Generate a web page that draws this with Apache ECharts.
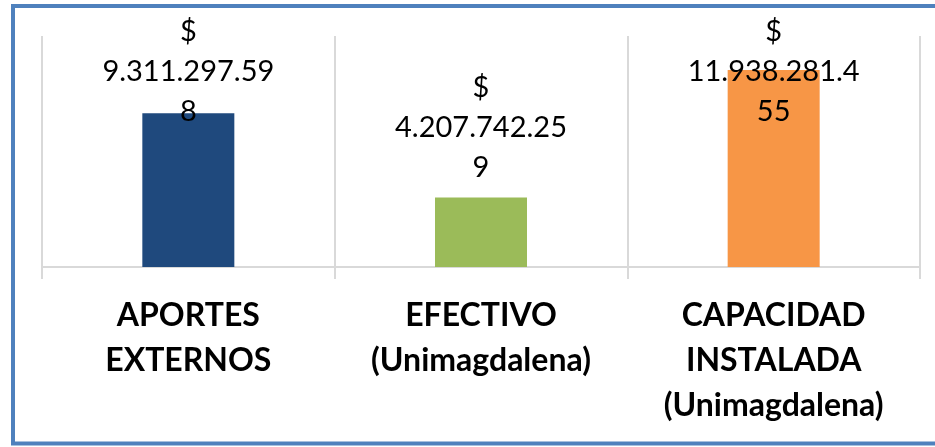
<!DOCTYPE html>
<html>
<head>
<meta charset="utf-8">
<script src="https://cdn.jsdelivr.net/npm/echarts@6/dist/echarts.min.js"></script>
<style>
  html, body { margin: 0; padding: 0; background: #fff; }
  #chart { width: 935px; height: 447px; }
</style>
</head>
<body>
<div id="chart"></div>
<script>
// datos
const categories = ['APORTES EXTERNOS', 'EFECTIVO (Unimagdalena)', 'CAPACIDAD INSTALADA (Unimagdalena)'];
const values = [9311297598, 4207742259, 11938281455];
const barColors = ['#1F497D', '#9BBB59', '#F79646'];

// 9311297598 -> "9.311.297.598"
const fmtMiles = (v) => String(v).replace(/\B(?=(\d{3})+(?!\d))/g, '.');

// Excel corta la etiqueta: "$" y luego el numero en trozos de 12 caracteres
const wrapLabel = (v) => {
  const s = fmtMiles(v);
  const parts = [];
  for (let i = 0; i < s.length; i += 12) parts.push(s.slice(i, i + 12));
  return '$\n' + parts.join('\n');
};

const chart = echarts.init(document.getElementById('chart'));

chart.setOption({
  animation: false,
  graphic: [
    {
      type: 'rect',
      shape: { x: 13, y: 6, width: 940, height: 437.5 },
      style: { fill: 'none', stroke: '#4F81BD', lineWidth: 4 },
      z: 100
    }
  ],
  grid: { left: 42, right: 15, top: 36, bottom: 180 },
  xAxis: {
    type: 'category',
    data: categories,
    axisLine: { lineStyle: { color: '#D9D9D9', width: 2 } },
    axisTick: { show: true, length: 12, lineStyle: { color: '#D9D9D9', width: 2 } },
    splitLine: { show: true, lineStyle: { color: '#D9D9D9', width: 2 } },
    axisLabel: {
      interval: 0,
      margin: 26,
      color: '#000',
      fontFamily: 'Lato',
      fontWeight: 'bold',
      fontSize: 32,
      lineHeight: 45,
      formatter: (v) => v.split(' ').join('\n')
    }
  },
  yAxis: {
    type: 'value',
    min: 0,
    max: 14000000000,
    show: false,
    splitLine: { show: false }
  },
  series: [
    {
      type: 'bar',
      data: values,
      barWidth: 92,
      itemStyle: { color: (p) => barColors[p.dataIndex] },
      label: {
        show: true,
        position: 'top',
        distance: 10,
        color: '#000',
        fontFamily: 'Lato',
        fontSize: 29,
        lineHeight: 40,
        formatter: (p) => wrapLabel(p.value)
      },
      // como en Excel, la etiqueta no sale del area del grafico
      labelLayout: (p) => ({
        x: p.rect.x + p.rect.width / 2,
        y: Math.max(p.labelRect.y, 12),
        align: 'center',
        verticalAlign: 'top'
      })
    }
  ]
});
</script>
</body>
</html>
